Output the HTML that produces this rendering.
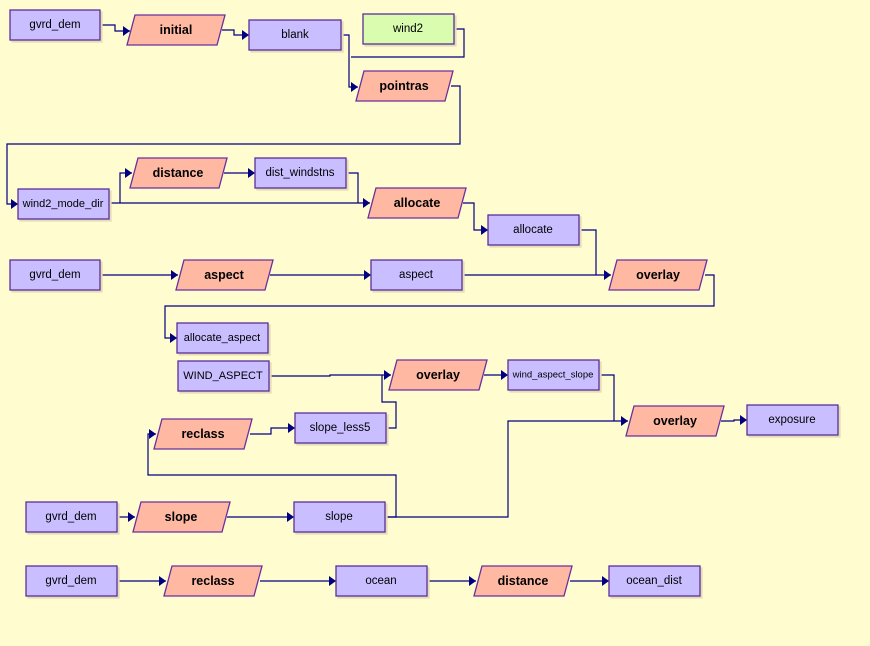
<!DOCTYPE html>
<html><head><meta charset="utf-8"><style>
html,body{margin:0;padding:0;background:#FFFCCF;}
svg{display:block;}
text{font-family:"Liberation Sans",sans-serif;font-size:11.5px;text-anchor:middle;dominant-baseline:central;fill:#000;}
.b{font-weight:bold;font-size:12.5px;}
.r{fill:#C9BEFF;stroke:#5A2E9A;stroke-width:1.3;}
.g{fill:#D9FCAE;stroke:#5A2E9A;stroke-width:1.3;}
.p{fill:#FFB9A3;stroke:#6A2EA0;stroke-width:1.3;}
.l{fill:none;stroke:#000080;stroke-width:1.2;}
rect.r,rect.g{filter:drop-shadow(2px 2px 0 #E4DDB8);}
</style></head><body>
<svg width="870" height="646" xmlns="http://www.w3.org/2000/svg">
<defs>
<marker id="a" markerWidth="8" markerHeight="10" refX="7" refY="5" orient="auto" markerUnits="userSpaceOnUse">
<path d="M0,0 L7,5 L0,10 z" fill="#000080"/></marker>
</defs>
<g class="l">
<polyline class="l" points="101,25 115,25 115,31 130,31" marker-end="url(#a)"/>
<polyline class="l" points="222,30 234,30 234,35 249,35" marker-end="url(#a)"/>
<polyline class="l" points="341,35 349,35 349,87 358,87" marker-end="url(#a)"/>
<polyline class="l" points="454,29 464,29 464,57 351,57"/>
<polyline class="l" points="451,86 460,86 460,144 7,144 7,204 18,204" marker-end="url(#a)"/>
<polyline class="l" points="120,203 120,173 132,173" marker-end="url(#a)"/>
<polyline class="l" points="109,203 370,203" marker-end="url(#a)"/>
<polyline class="l" points="224,173 255,173" marker-end="url(#a)"/>
<polyline class="l" points="346,173 358,173 358,203"/>
<polyline class="l" points="463,203 474,203 474,230 488,230" marker-end="url(#a)"/>
<polyline class="l" points="579,230 596,230 596,275"/>
<polyline class="l" points="101,275 178,275" marker-end="url(#a)"/>
<polyline class="l" points="270,275 371,275" marker-end="url(#a)"/>
<polyline class="l" points="462,275 611,275" marker-end="url(#a)"/>
<polyline class="l" points="705,275 714,275 714,306 165,306 165,338 177,338" marker-end="url(#a)"/>
<polyline class="l" points="269,376 330,376 330,375 391,375" marker-end="url(#a)"/>
<polyline class="l" points="386,428 396,428 396,402 382,402 382,375"/>
<polyline class="l" points="484,375 508,375" marker-end="url(#a)"/>
<polyline class="l" points="599,375 614,375 614,421"/>
<polyline class="l" points="385,517 508,517 508,421 628,421" marker-end="url(#a)"/>
<polyline class="l" points="385,517 396,517 396,475 148,475 148,434 156,434" marker-end="url(#a)"/>
<polyline class="l" points="250,434 271,434 271,428 295,428" marker-end="url(#a)"/>
<polyline class="l" points="721,421 734,421 734,420 747,420" marker-end="url(#a)"/>
<polyline class="l" points="117,517 135,517" marker-end="url(#a)"/>
<polyline class="l" points="227,517 294,517" marker-end="url(#a)"/>
<polyline class="l" points="117,581 166,581" marker-end="url(#a)"/>
<polyline class="l" points="260,581 336,581" marker-end="url(#a)"/>
<polyline class="l" points="427,581 476,581" marker-end="url(#a)"/>
<polyline class="l" points="570,581 609,581" marker-end="url(#a)"/>
</g>

<g>
<rect class="r" x="10" y="10" width="90" height="30"/><text x="55" y="25">gvrd_dem</text>
<rect class="r" x="249" y="20" width="92" height="30"/><text x="295" y="35">blank</text>
<rect class="g" x="363" y="14" width="91" height="30"/><text x="408" y="29">wind2</text>
<rect class="r" x="18" y="189" width="91" height="30"/><text x="63" y="204" style="font-size:11px">wind2_mode_dir</text>
<rect class="r" x="255" y="158" width="91" height="30"/><text x="300" y="173">dist_windstns</text>
<rect class="r" x="488" y="215" width="91" height="30"/><text x="533" y="230">allocate</text>
<rect class="r" x="10" y="260" width="90" height="30"/><text x="55" y="275">gvrd_dem</text>
<rect class="r" x="371" y="260" width="91" height="30"/><text x="416" y="275">aspect</text>
<rect class="r" x="177" y="323" width="91" height="30"/><text x="222" y="338" style="font-size:11px">allocate_aspect</text>
<rect class="r" x="178" y="361" width="91" height="30"/><text x="223" y="376" style="font-size:11px">WIND_ASPECT</text>
<rect class="r" x="508" y="360" width="91" height="30"/><text x="553" y="375" style="font-size:9.5px">wind_aspect_slope</text>
<rect class="r" x="295" y="413" width="91" height="30"/><text x="340" y="428">slope_less5</text>
<rect class="r" x="747" y="405" width="91" height="30"/><text x="792" y="420">exposure</text>
<rect class="r" x="26" y="502" width="91" height="30"/><text x="71" y="517">gvrd_dem</text>
<rect class="r" x="294" y="502" width="91" height="30"/><text x="339" y="517">slope</text>
<rect class="r" x="26" y="566" width="91" height="30"/><text x="71" y="581">gvrd_dem</text>
<rect class="r" x="336" y="566" width="91" height="30"/><text x="381" y="581">ocean</text>
<rect class="r" x="609" y="566" width="91" height="30"/><text x="654" y="581">ocean_dist</text>
</g>

<g>
<polygon class="p" points="135,15 225,15 217,45 127,45"/><text class="b" x="176" y="30">initial</text>
<polygon class="p" points="364,71 453,71 445,101 356,101"/><text class="b" x="404" y="86">pointras</text>
<polygon class="p" points="138,158 227,158 219,188 130,188"/><text class="b" x="178" y="173">distance</text>
<polygon class="p" points="376,188 466,188 458,218 368,218"/><text class="b" x="417" y="203">allocate</text>
<polygon class="p" points="184,260 273,260 265,290 176,290"/><text class="b" x="224" y="275">aspect</text>
<polygon class="p" points="617,260 707,260 699,290 609,290"/><text class="b" x="658" y="275">overlay</text>
<polygon class="p" points="397,360 487,360 479,390 389,390"/><text class="b" x="438" y="375">overlay</text>
<polygon class="p" points="162,419 252,419 244,449 154,449"/><text class="b" x="203" y="434">reclass</text>
<polygon class="p" points="634,406 724,406 716,436 626,436"/><text class="b" x="675" y="421">overlay</text>
<polygon class="p" points="141,502 230,502 222,532 133,532"/><text class="b" x="181" y="517">slope</text>
<polygon class="p" points="172,566 262,566 254,596 164,596"/><text class="b" x="213" y="581">reclass</text>
<polygon class="p" points="482,566 572,566 564,596 474,596"/><text class="b" x="523" y="581">distance</text>
</g>
</svg>
</body></html>
